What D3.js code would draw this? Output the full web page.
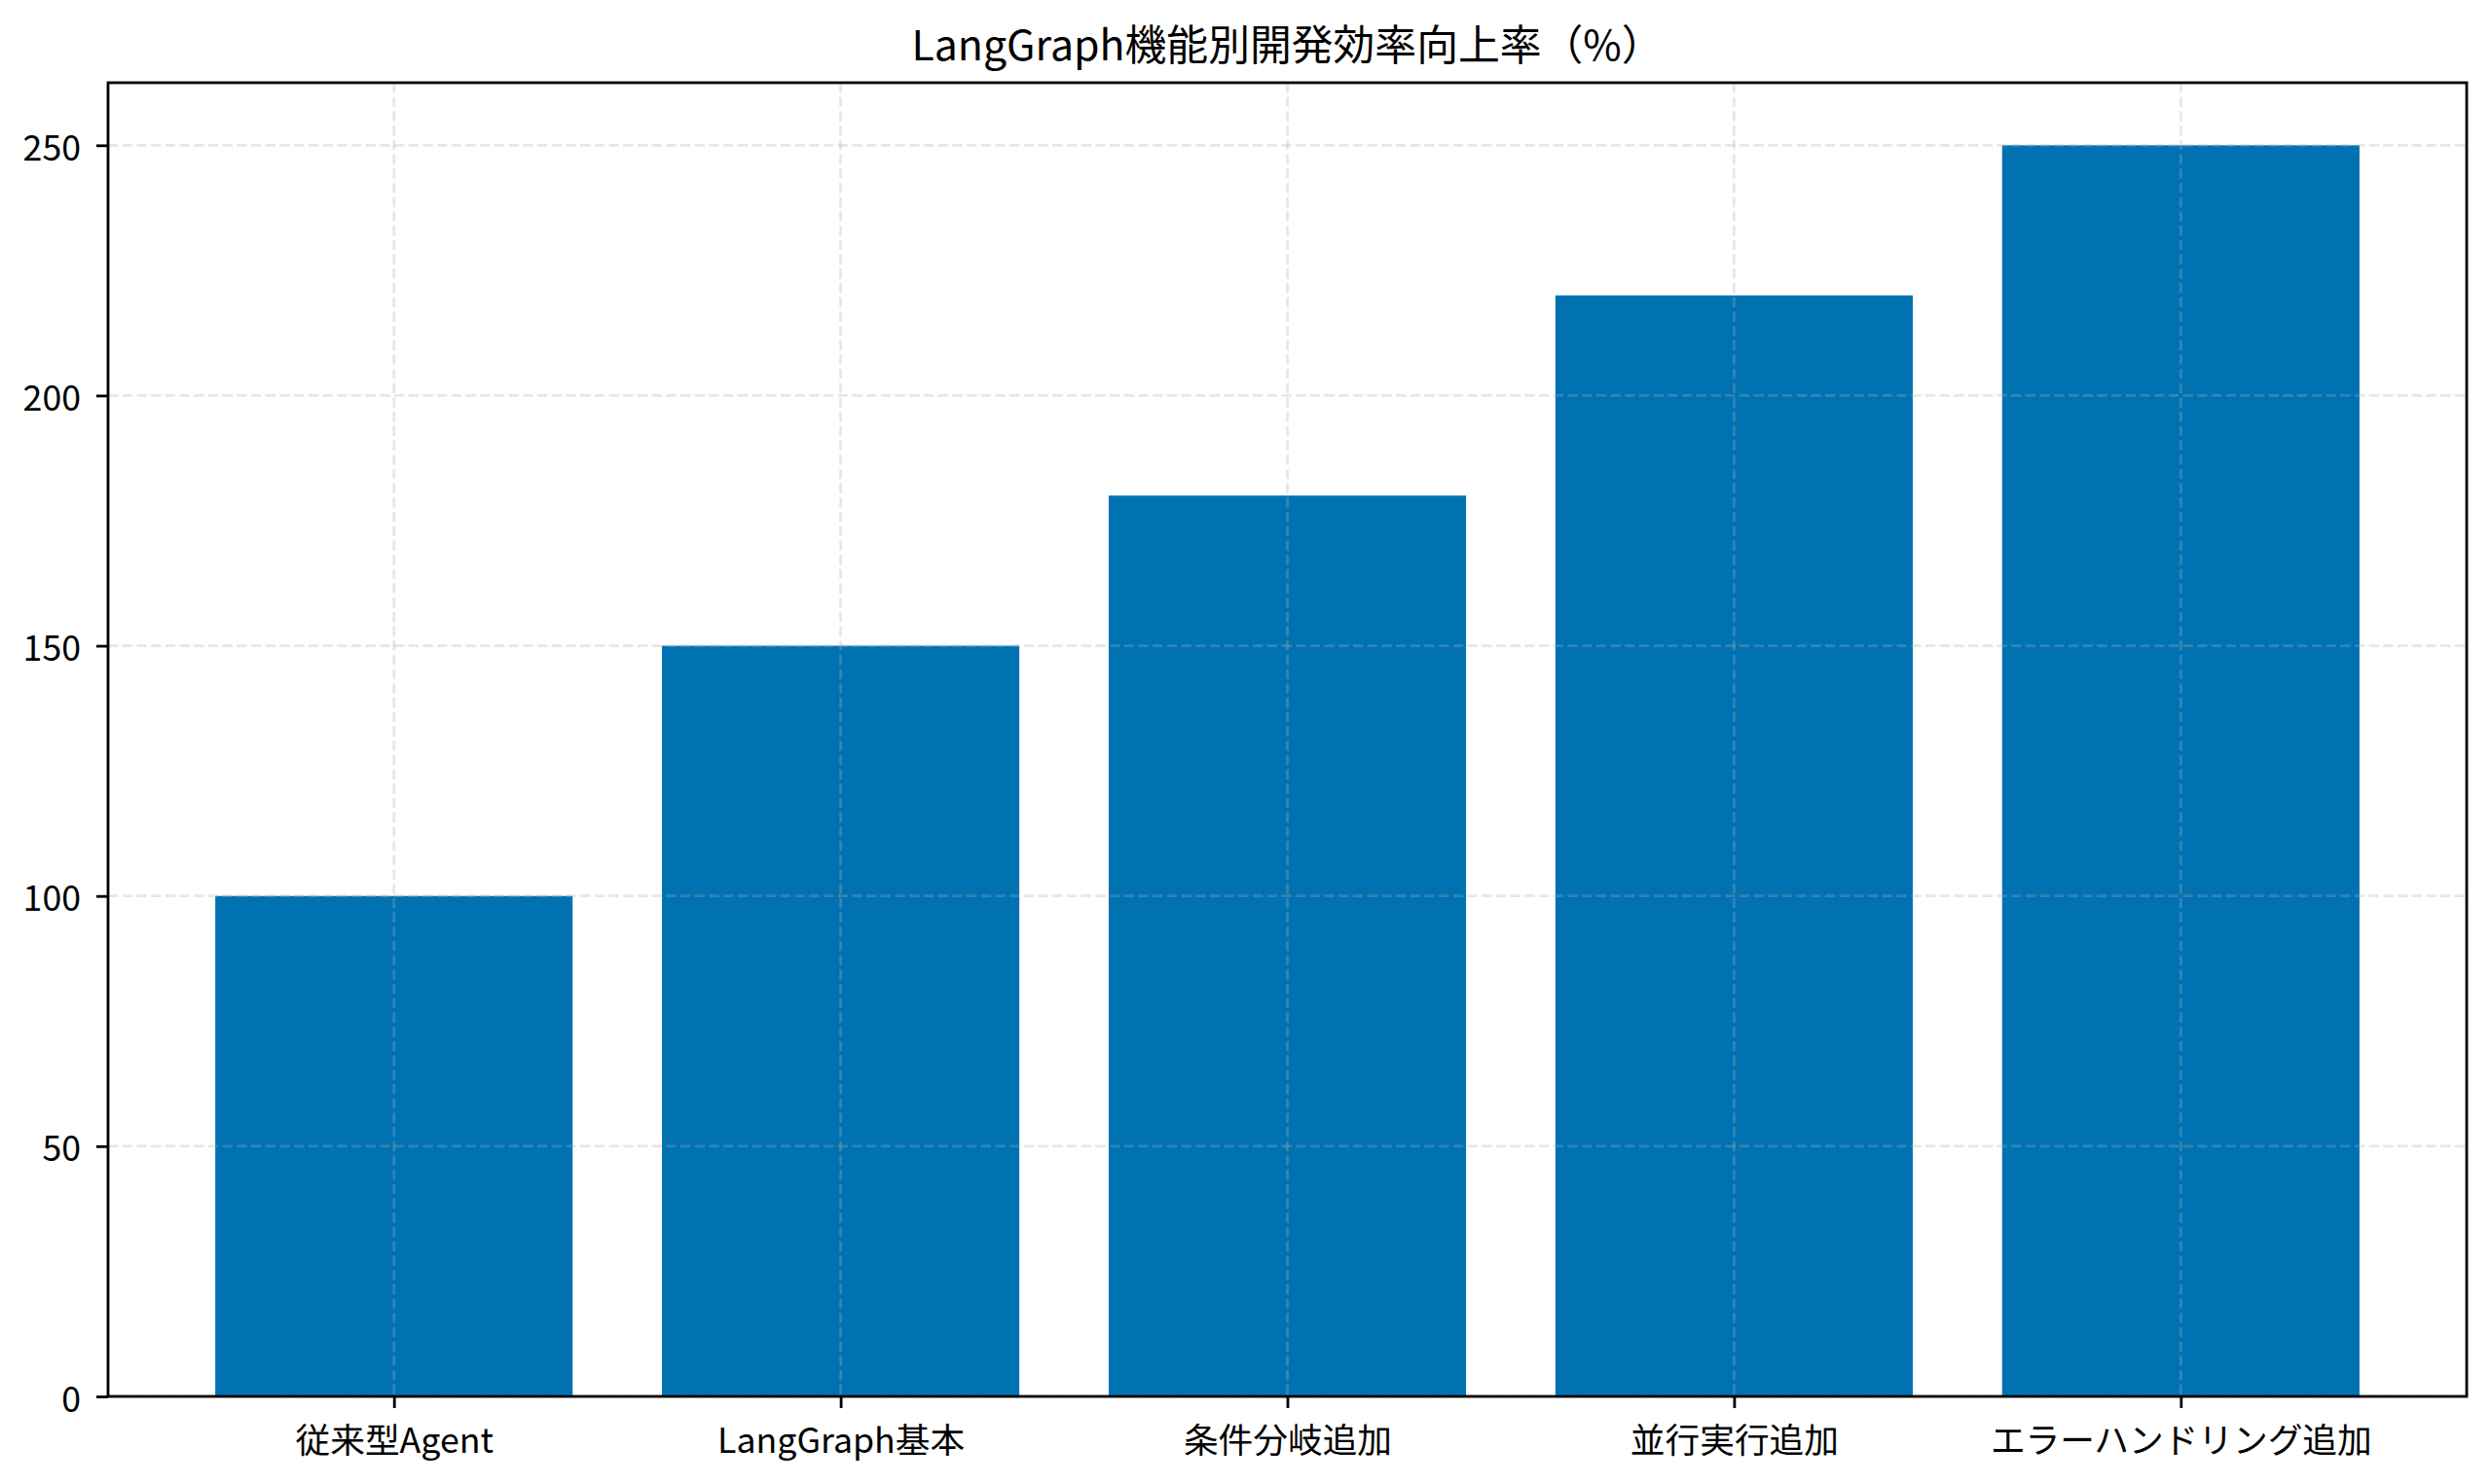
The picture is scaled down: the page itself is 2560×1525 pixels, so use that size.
<!DOCTYPE html>
<html>
<head>
<meta charset="utf-8">
<script src="https://cdn.jsdelivr.net/npm/d3@7"></script>
<style>
  body { margin: 0; background: #fff; }
  svg { display: block; font-family: "Noto Sans CJK JP", "Noto Sans", sans-serif; }
</style>
</head>
<body>
<div id="wrapper"></div>
<script>
// data
const categories = ["従来型Agent", "LangGraph基本", "条件分岐追加", "並行実行追加", "エラーハンドリング追加"]
const efficiency = [100, 150, 180, 220, 250]
const yTicks = [0, 50, 100, 150, 200, 250]
const titleText = "LangGraph機能別開発効率向上率（%）"

function drawBarChart() {

  // dimensions
  let dimensions = {
    width: 2560,
    height: 1525,
    margin: { top: 85, right: 26, bottom: 90, left: 111 },
  }
  dimensions.boundedWidth = dimensions.width - dimensions.margin.left - dimensions.margin.right
  dimensions.boundedHeight = dimensions.height - dimensions.margin.top - dimensions.margin.bottom

  const wrapper = d3.select("#wrapper")
    .append("svg")
      .attr("width", dimensions.width)
      .attr("height", dimensions.height)

  const bounds = wrapper.append("g")
      .attr("transform", `translate(${dimensions.margin.left}, ${dimensions.margin.top})`)

  // scales (matplotlib style: bar width 0.8, 5% margins)
  const xScale = d3.scaleLinear()
    .domain([-0.64, categories.length - 1 + 0.64])
    .range([0, dimensions.boundedWidth])

  const yScale = d3.scaleLinear()
    .domain([0, d3.max(efficiency) * 1.05])
    .range([dimensions.boundedHeight, 0])

  const barWidth = xScale(0.8) - xScale(0)

  // bars
  bounds.append("g")
    .selectAll("rect")
    .data(efficiency)
    .join("rect")
      .attr("x", (d, i) => xScale(i - 0.4))
      .attr("y", d => yScale(d))
      .attr("width", barWidth)
      .attr("height", d => yScale(0) - yScale(d))
      .attr("fill", "#0072B2")

  // grid, drawn over the bars
  const grid = bounds.append("g")
      .attr("stroke", "#b0b0b0")
      .attr("stroke-opacity", 0.3)
      .attr("stroke-width", 2.8)
      .attr("stroke-dasharray", "10.3,4.4")

  grid.selectAll(".gx")
    .data(categories)
    .join("line")
      .attr("class", "gx")
      .attr("x1", (d, i) => xScale(i))
      .attr("x2", (d, i) => xScale(i))
      .attr("y1", 0)
      .attr("y2", dimensions.boundedHeight)

  grid.selectAll(".gy")
    .data(yTicks)
    .join("line")
      .attr("class", "gy")
      .attr("x1", 0)
      .attr("x2", dimensions.boundedWidth)
      .attr("y1", d => yScale(d))
      .attr("y2", d => yScale(d))

  // axes
  const yAxisGenerator = d3.axisLeft(yScale)
    .tickValues(yTicks)
    .tickSize(12)
    .tickPadding(16)

  const yAxis = bounds.append("g")
    .call(yAxisGenerator)
  yAxis.select(".domain").remove()
  yAxis.selectAll(".tick text").attr("dy", "0.42em")

  const xAxisGenerator = d3.axisBottom(xScale)
    .tickValues(d3.range(categories.length))
    .tickFormat(i => categories[i])
    .tickSize(12)
    .tickPadding(21)

  const xAxis = bounds.append("g")
    .attr("transform", `translate(0, ${dimensions.boundedHeight})`)
    .call(xAxisGenerator)
  xAxis.select(".domain").remove()

  bounds.selectAll(".tick line")
    .attr("stroke", "#000")
    .attr("stroke-width", 2.8)
  bounds.selectAll(".tick text")
    .attr("fill", "#000")
    .style("font-size", "35.7px")
    .style("font-family", "\"Noto Sans CJK JP\", sans-serif")

  // frame
  bounds.append("rect")
    .attr("width", dimensions.boundedWidth)
    .attr("height", dimensions.boundedHeight)
    .attr("fill", "none")
    .attr("stroke", "#000")
    .attr("stroke-width", 2.8)

  // title
  wrapper.append("text")
    .attr("x", dimensions.margin.left + dimensions.boundedWidth / 2)
    .attr("y", dimensions.margin.top - 23)
    .attr("text-anchor", "middle")
    .style("font-size", "42.8px")
    .text(titleText)
}

drawBarChart()
</script>
</body>
</html>
